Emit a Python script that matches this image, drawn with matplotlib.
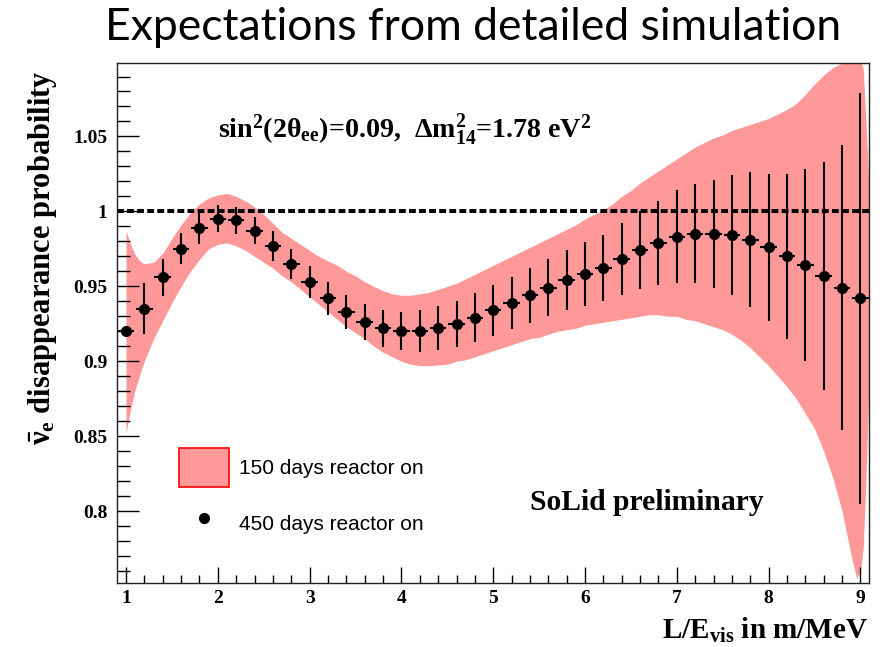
import matplotlib
matplotlib.use("Agg")
import matplotlib.pyplot as plt
from matplotlib.patches import Patch
from matplotlib.lines import Line2D
from matplotlib.ticker import MultipleLocator

plt.rcParams['mathtext.fontset'] = 'custom'
plt.rcParams['mathtext.rm'] = 'Liberation Serif:bold'
plt.rcParams['mathtext.it'] = 'Liberation Serif:bold'
plt.rcParams['mathtext.bf'] = 'Liberation Serif:bold'

# 450 days: expected points with stat. errors
le_points = [1.0, 1.2, 1.4, 1.6, 1.8, 2.0, 2.2, 2.4, 2.6, 2.8, 3.0, 3.2, 3.4, 3.6,
             3.8, 4.0, 4.2, 4.4, 4.6, 4.8, 5.0, 5.2, 5.4, 5.6, 5.8, 6.0, 6.2, 6.4,
             6.6, 6.8, 7.0, 7.2, 7.4, 7.6, 7.8, 8.0, 8.2, 8.4, 8.6, 8.8, 9.0]
prob_points = [0.920, 0.935, 0.956, 0.975, 0.989, 0.995, 0.994, 0.987, 0.977, 0.965,
               0.953, 0.942, 0.933, 0.926, 0.922, 0.920, 0.920, 0.922, 0.925, 0.929,
               0.934, 0.939, 0.944, 0.949, 0.954, 0.958, 0.962, 0.968, 0.974, 0.979,
               0.983, 0.985, 0.985, 0.984, 0.981, 0.976, 0.970, 0.964, 0.957, 0.949,
               0.942]
prob_err = [0.003, 0.017, 0.0124, 0.0103, 0.0105, 0.009, 0.009, 0.009, 0.010, 0.010,
            0.0105, 0.011, 0.0114, 0.012, 0.0122, 0.0128, 0.0139, 0.0148, 0.0154, 0.0164,
            0.0169, 0.0172, 0.0183, 0.019, 0.020, 0.0213, 0.022, 0.024, 0.026, 0.028,
            0.031, 0.033, 0.036, 0.040, 0.045, 0.049, 0.055, 0.064, 0.076, 0.095,
            0.137]

# 150 days: 1 sigma band
band_le = [1.00, 1.05, 1.10, 1.15, 1.20, 1.30, 1.40, 1.50, 1.60, 1.70, 1.80, 1.90,
           2.00, 2.10, 2.20, 2.30, 2.40, 2.50, 2.60, 2.70, 2.80, 2.90, 3.00, 3.10,
           3.20, 3.30, 3.40, 3.50, 3.60, 3.70, 3.80, 3.90, 4.00, 4.10, 4.20, 4.30,
           4.40, 4.50, 4.60, 4.70, 4.80, 4.90, 5.00, 5.10, 5.20, 5.30, 5.40, 5.50,
           5.60, 5.70, 5.80, 5.90, 6.00, 6.10, 6.20, 6.30, 6.40, 6.50, 6.60, 6.70,
           6.80, 6.90, 7.00, 7.10, 7.20, 7.30, 7.40, 7.50, 7.60, 7.70, 7.80, 7.90,
           8.00, 8.10, 8.20, 8.30, 8.40, 8.50, 8.60, 8.70, 8.80, 8.90, 8.96, 9.00,
           9.03, 9.06, 9.09]
band_hi = [0.987, 0.978, 0.971, 0.967, 0.965, 0.966, 0.972, 0.982, 0.991, 0.999, 1.005, 1.009,
           1.011, 1.012, 1.010, 1.007, 1.003, 0.998, 0.992, 0.986, 0.982, 0.978, 0.974, 0.970,
           0.967, 0.964, 0.960, 0.957, 0.953, 0.950, 0.947, 0.945, 0.944, 0.944, 0.945, 0.946,
           0.948, 0.950, 0.952, 0.955, 0.958, 0.961, 0.964, 0.967, 0.970, 0.973, 0.976, 0.979,
           0.982, 0.985, 0.988, 0.991, 0.995, 0.998, 1.001, 1.005, 1.010, 1.014, 1.019, 1.023,
           1.027, 1.031, 1.035, 1.039, 1.043, 1.046, 1.049, 1.051, 1.054, 1.056, 1.058, 1.060,
           1.062, 1.065, 1.068, 1.072, 1.078, 1.085, 1.091, 1.096, 1.099, 1.101, 1.102, 1.102,
           1.095, 1.060, 1.020]
band_lo = [0.852, 0.868, 0.881, 0.891, 0.900, 0.915, 0.927, 0.939, 0.950, 0.960, 0.968, 0.975,
           0.978, 0.979, 0.977, 0.974, 0.970, 0.966, 0.962, 0.957, 0.953, 0.948, 0.943, 0.938,
           0.933, 0.928, 0.923, 0.919, 0.915, 0.910, 0.906, 0.903, 0.900, 0.898, 0.897, 0.897,
           0.8975, 0.898, 0.900, 0.901, 0.903, 0.905, 0.907, 0.909, 0.911, 0.913, 0.915, 0.916,
           0.918, 0.920, 0.921, 0.922, 0.924, 0.925, 0.926, 0.927, 0.928, 0.929, 0.930, 0.931,
           0.931, 0.930, 0.930, 0.928, 0.927, 0.925, 0.923, 0.921, 0.918, 0.914, 0.909, 0.903,
           0.897, 0.890, 0.883, 0.875, 0.865, 0.855, 0.840, 0.822, 0.800, 0.770, 0.755, 0.760,
           0.775, 0.820, 0.880]

band_color = '#ff9999'

fig = plt.figure(figsize=(8.94, 6.47), dpi=100)
ax = fig.add_axes([0.1309, 0.0989, 0.8412, 0.8037])

ax.fill_between(band_le, band_lo, band_hi, color=band_color, lw=0, zorder=1)
ax.axhline(1.0, color='black', lw=2.9, ls=(0, (1.7, 0.8)), zorder=2)
ax.errorbar(le_points, prob_points, yerr=prob_err, xerr=0.09, fmt='o', color='black',
            ms=7, elinewidth=1.5, capsize=0, zorder=3)

ax.set_xlim(0.902, 9.094)
ax.set_ylim(0.752, 1.099)

ax.xaxis.set_major_locator(MultipleLocator(1))
ax.xaxis.set_minor_locator(MultipleLocator(0.2))
ax.yaxis.set_minor_locator(MultipleLocator(0.01))
ax.set_yticks([0.8, 0.85, 0.9, 0.95, 1.0, 1.05])
ax.set_yticklabels(['0.8', '0.85', '0.9', '0.95', '1', '1.05'])
ax.tick_params(axis='y', which='major', direction='in', length=16, width=1, pad=7)
ax.tick_params(axis='y', which='minor', direction='in', length=9, width=1)
ax.tick_params(axis='x', which='major', direction='in', length=11.5, width=1, pad=5)
ax.tick_params(axis='x', which='minor', direction='in', length=5.8, width=1)
for lab in ax.get_xticklabels() + ax.get_yticklabels():
    lab.set_fontfamily('Liberation Serif')
    lab.set_fontweight('bold')
    lab.set_fontsize(14)
for sp in ax.spines.values():
    sp.set_linewidth(1.0)
    sp.set_color('#222222')

# axis titles, ROOT style (flush to the axis ends)
fig.text(868 / 894, 1 - 630 / 647, r'L/E$_{\mathrm{vis}}$ in m/MeV', ha='right', va='center',
         family='Liberation Serif', weight='bold', fontsize=21)
fig.text(43 / 894, 1 - 70 / 647, r'$\bar{\nu}_{e}$ disappearance probability',
         rotation=90, ha='center', va='top',
         family='Liberation Serif', weight='bold', fontsize=22)

ax.text(0.134, 0.871, r'sin$^{2}$(2$\theta_{ee}$)=0.09,  $\Delta$m$^{2}_{14}$=1.78 eV$^{2}$',
        transform=ax.transAxes, ha='left', va='center',
        family='Liberation Serif', weight='bold', fontsize=20.2)
ax.text(0.549, 0.154, 'SoLid preliminary', transform=ax.transAxes, ha='left', va='center',
        family='Liberation Serif', weight='bold', fontsize=21.3)

handles = [Patch(facecolor=band_color, edgecolor='red', lw=1.2),
           Line2D([], [], ls='none', marker='o', color='black', ms=7)]
ax.legend(handles, ['150 days reactor on', '450 days reactor on'],
          loc='upper left', bbox_to_anchor=(179 / 894, 1 - 448 / 647),
          bbox_transform=fig.transFigure, frameon=False, borderpad=0, borderaxespad=0,
          prop={'family': 'Liberation Sans', 'size': 15},
          handlelength=2.4, handleheight=2.51, labelspacing=0.84, handletextpad=0.48)

fig.text(0.5296, 1 - 27 / 647, 'Expectations from detailed simulation',
         ha='center', va='center', family='Lato', fontsize=32)

fig.savefig('out.png', dpi=100)
